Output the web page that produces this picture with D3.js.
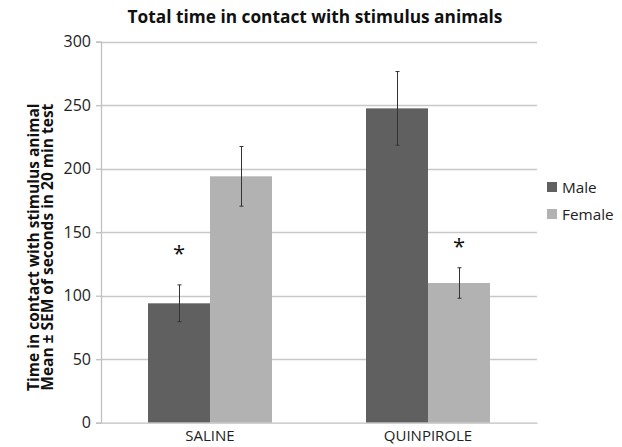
<!DOCTYPE html>
<html>
<head>
<meta charset="utf-8">
<script src="https://cdn.jsdelivr.net/npm/d3@7"></script>
<style>
  body { margin: 0; background: #fff; }
  svg { display: block; font-family: "Open Sans", "Noto Sans", sans-serif; }
</style>
</head>
<body>
<div id="viz-container"></div>
<script>
// chart values
let categories = ["SALINE", "QUINPIROLE"];
let seriesNames = ["Male", "Female"];
let maleMeans = [94, 247.5];
let femaleMeans = [194, 110];
let maleSEM = [14.5, 29];
let femaleSEM = [23.5, 12];
let yTicks = [0, 50, 100, 150, 200, 250, 300];
// where the significance stars sit (value units)
let starCategory = ["SALINE", "QUINPIROLE"];
let starSeries = ["Male", "Female"];
let starValue = [136, 141.5];

let w = 622;
let h = 447;
let colors = { Male: "#606060", Female: "#b2b2b2" };

let plotLeft = 101, plotRight = 537, plotTop = 41.7, plotBottom = 422.7;

let rows = [];
categories.forEach(function(c, i){
  rows.push({ cat: c, series: "Male", value: maleMeans[i], sem: maleSEM[i] });
  rows.push({ cat: c, series: "Female", value: femaleMeans[i], sem: femaleSEM[i] });
});

let viz = d3.select("#viz-container")
  .append("svg")
  .attr("width", w)
  .attr("height", h);

let xScale = d3.scaleBand().domain(categories).range([plotLeft, plotRight]).paddingInner(0).paddingOuter(0);
let inner = d3.scaleBand().domain(seriesNames).range([0, 124]);
let groupOffset = (xScale.bandwidth() - 124) / 2;
let yScale = d3.scaleLinear().domain([0, 300]).range([plotBottom, plotTop]);

// gridlines
viz.append("g")
  .selectAll("line").data(yTicks.filter(function(t){ return t > 0; })).enter()
  .append("line")
  .attr("x1", plotLeft)
  .attr("x2", plotRight)
  .attr("y1", function(d){ return Math.round(yScale(d)) + 0.5; })
  .attr("y2", function(d){ return Math.round(yScale(d)) + 0.5; })
  .attr("stroke", "#c8c8c8")
  .attr("stroke-width", 1.3);

// y axis
let yAxis = d3.axisLeft(yScale).tickValues(yTicks).tickSize(5).tickPadding(5);
let yAxisGroup = viz.append("g")
  .attr("transform", "translate(" + plotLeft + ",0)")
  .call(yAxis);
yAxisGroup.select(".domain").attr("stroke", "#c0c0c0").attr("stroke-width", 1.3);
yAxisGroup.selectAll(".tick line").attr("stroke", "#c0c0c0").attr("stroke-width", 1.3);
yAxisGroup.selectAll(".tick text")
  .attr("font-size", "16px")
  .attr("fill", "#222")
  .attr("font-family", "Open Sans");

// bars
let bars = viz.append("g")
  .selectAll("rect").data(rows).enter()
  .append("rect")
  .attr("x", function(d){ return xScale(d.cat) + groupOffset + inner(d.series); })
  .attr("y", function(d){ return yScale(d.value); })
  .attr("width", inner.bandwidth())
  .attr("height", function(d){ return yScale(0) - yScale(d.value); })
  .attr("fill", function(d){ return colors[d.series]; });

// x axis
let xAxis = d3.axisBottom(xScale).tickSize(0).tickPadding(8);
let xAxisGroup = viz.append("g")
  .attr("transform", "translate(0," + plotBottom + ")")
  .call(xAxis);
xAxisGroup.select(".domain").attr("stroke", "#c0c0c0").attr("stroke-width", 1.3);
xAxisGroup.selectAll(".tick text")
  .attr("font-size", "15px")
  .attr("fill", "#222")
  .attr("font-family", "Open Sans");

// error bars
let errs = viz.append("g")
  .selectAll("g").data(rows).enter()
  .append("g")
  .attr("transform", function(d){
    let cx = xScale(d.cat) + groupOffset + inner(d.series) + inner.bandwidth() / 2;
    return "translate(" + (Math.round(cx) + 0.5) + ",0)";
  });
errs.append("line")
  .attr("y1", function(d){ return yScale(d.value + d.sem); })
  .attr("y2", function(d){ return yScale(d.value - d.sem); })
  .attr("stroke", "#333")
  .attr("stroke-width", 1);
errs.append("line")
  .attr("x1", -2).attr("x2", 2)
  .attr("y1", function(d){ return yScale(d.value + d.sem); })
  .attr("y2", function(d){ return yScale(d.value + d.sem); })
  .attr("stroke", "#333");
errs.append("line")
  .attr("x1", -2).attr("x2", 2)
  .attr("y1", function(d){ return yScale(d.value - d.sem); })
  .attr("y2", function(d){ return yScale(d.value - d.sem); })
  .attr("stroke", "#333");

// significance stars
viz.append("g")
  .selectAll("text").data(starValue).enter()
  .append("text")
  .attr("x", function(d, i){ return xScale(starCategory[i]) + groupOffset + inner(starSeries[i]) + inner.bandwidth() / 2; })
  .attr("y", function(d){ return yScale(d) + 11; })
  .attr("text-anchor", "middle")
  .attr("font-size", "22px")
  .attr("fill", "#111")
  .text("*");

// title
viz.append("text")
  .attr("x", 315)
  .attr("y", 23)
  .attr("text-anchor", "middle")
  .attr("font-size", "17.3px")
  .attr("font-weight", "bold")
  .attr("fill", "#111")
  .text("Total time in contact with stimulus animals");

// y label, two lines
let yLabel = viz.append("text")
  .attr("transform", "translate(0," + ((plotTop + plotBottom) / 2 + 15) + ") rotate(-90)")
  .attr("text-anchor", "middle")
  .attr("font-size", "15.5px")
  .attr("font-weight", "bold")
  .attr("fill", "#111");
yLabel.append("tspan").attr("x", 0).attr("y", 39).text("Time in contact with stimulus animal");
yLabel.append("tspan").attr("x", 0).attr("y", 53).text("Mean \u00b1 SEM of seconds in 20 min test");

// legend
let legend = viz.append("g")
  .selectAll("g").data(seriesNames).enter()
  .append("g")
  .attr("transform", function(d, i){ return "translate(547," + (182 + i * 27) + ")"; });
legend.append("rect")
  .attr("width", 10)
  .attr("height", 10)
  .attr("fill", function(d){ return colors[d]; });
legend.append("text")
  .attr("x", 15)
  .attr("y", 10.5)
  .attr("font-size", "15.3px")
  .attr("fill", "#222")
  .text(function(d){ return d; });
</script>
</body>
</html>
